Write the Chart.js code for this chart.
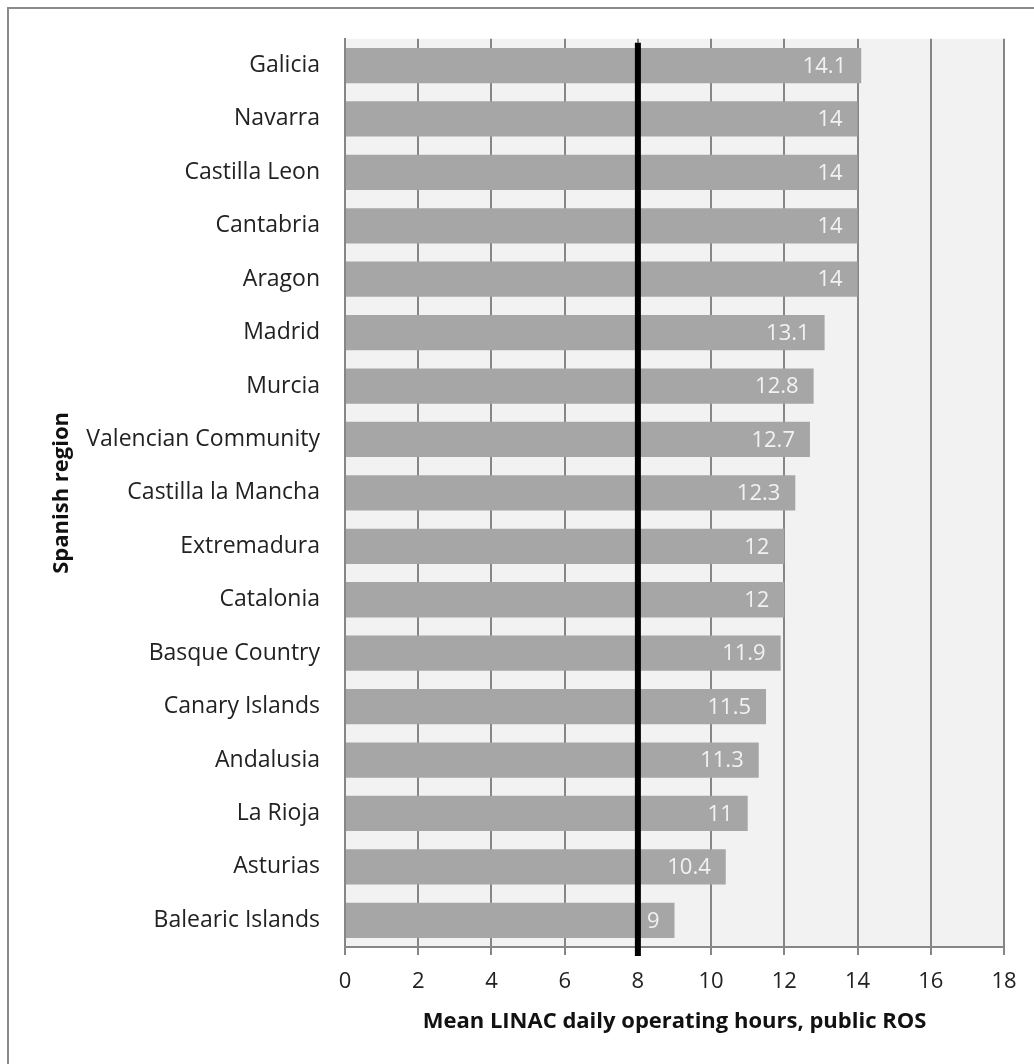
<!DOCTYPE html>
<html>
<head>
<meta charset="utf-8">
<script src="https://cdn.jsdelivr.net/npm/chart.js@4"></script>
<style>
  html, body { margin: 0; padding: 0; background: #fff; overflow: hidden; }
  #wrap { position: relative; width: 1034px; height: 1064px; }
  #frame { position: absolute; left: 7px; top: 7px; width: 1100px; height: 1100px; border: 2px solid #8a8a8a; }
  canvas { position: absolute; left: 0; top: 0; }
</style>
</head>
<body>
<div id="wrap">
  <div id="frame"></div>
  <canvas id="chart" width="1034" height="1064"></canvas>
</div>
<script>
const regions = [
  "Galicia", "Navarra", "Castilla Leon", "Cantabria", "Aragon", "Madrid",
  "Murcia", "Valencian Community", "Castilla la Mancha", "Extremadura",
  "Catalonia", "Basque Country", "Canary Islands", "Andalusia", "La Rioja",
  "Asturias", "Balearic Islands"
];
const hours = [14.1, 14, 14, 14, 14, 13.1, 12.8, 12.7, 12.3, 12, 12, 11.9, 11.5, 11.3, 11, 10.4, 9];
const xTicks = [0, 2, 4, 6, 8, 10, 12, 14, 16, 18];
const referenceHours = 8;

const FONT = "'Open Sans', 'Noto Sans', sans-serif";
const GRID = "#868686";

// light grey plot background
const plotBackground = {
  id: "plotBackground",
  beforeDraw(chart) {
    const { ctx, chartArea: a } = chart;
    ctx.save();
    ctx.fillStyle = "#f2f2f2";
    ctx.fillRect(a.left, a.top, a.right - a.left, a.bottom - a.top);
    ctx.restore();
  }
};

// white value labels inside the end of each bar + the black 8 h line
const barExtras = {
  id: "barExtras",
  afterDatasetsDraw(chart) {
    const { ctx, chartArea: a } = chart;
    const meta = chart.getDatasetMeta(0);
    ctx.save();
    ctx.font = "22px " + FONT;
    ctx.fillStyle = "#f2f2f2";
    ctx.textAlign = "right";
    ctx.textBaseline = "middle";
    meta.data.forEach((bar, i) => {
      ctx.fillText(String(hours[i]), bar.x - 15, bar.y + 1);
    });

    const x = chart.scales.x.getPixelForValue(referenceHours);
    ctx.strokeStyle = "#000";
    ctx.lineWidth = 6;
    ctx.beginPath();
    ctx.moveTo(x, a.top + 4);
    ctx.lineTo(x, a.bottom + 9);
    ctx.stroke();
    ctx.restore();
  }
};

new Chart(document.getElementById("chart"), {
  type: "bar",
  data: {
    labels: regions,
    datasets: [{
      data: hours,
      backgroundColor: "#a6a6a6",
      borderWidth: 0,
      barPercentage: 0.66,
      categoryPercentage: 1
    }]
  },
  options: {
    indexAxis: "y",
    responsive: false,
    animation: false,
    devicePixelRatio: 1,
    layout: { padding: { left: 40, top: 38, right: 30, bottom: 20 } },
    plugins: {
      legend: { display: false },
      tooltip: { enabled: false }
    },
    scales: {
      x: {
        min: 0,
        max: 18,
        afterBuildTicks(scale) {
          scale.ticks = xTicks.map(v => ({ value: v }));
        },
        afterFit(scale) { scale.height = 97; },
        grid: { color: GRID, lineWidth: 2, tickLength: 8, drawTicks: true },
        border: { display: true, color: GRID, width: 2 },
        ticks: { color: "#222", font: { family: FONT, size: 22 }, padding: 14, maxRotation: 0 },
        title: {
          display: true,
          text: "Mean LINAC daily operating hours, public ROS",
          color: "#111",
          font: { family: FONT, size: 22, weight: "bold" },
          padding: { top: 0, bottom: 9 }
        }
      },
      y: {
        afterFit(scale) { scale.width = 305; },
        grid: { display: false, drawTicks: false },
        border: { display: true, color: GRID, width: 2 },
        ticks: { color: "#222", font: { family: FONT, size: 23 }, padding: 25 },
        title: {
          display: true,
          text: "Spanish region",
          color: "#111",
          font: { family: FONT, size: 22, weight: "bold" },
          padding: { top: 9, bottom: 0 }
        }
      }
    }
  },
  plugins: [plotBackground, barExtras]
});
</script>
</body>
</html>
